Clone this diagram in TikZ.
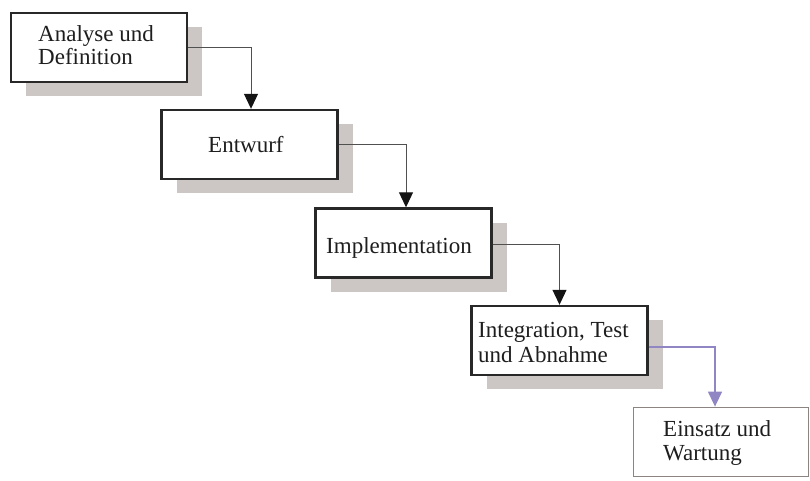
\documentclass[tikz,border=0pt]{standalone}
\usepackage{fontspec}
\setmainfont{Liberation Serif}
\usetikzlibrary{arrows.meta,shadows}
\definecolor{shade}{RGB}{204,199,196}
\definecolor{frame}{RGB}{40,40,40}
\definecolor{lastframe}{RGB}{140,132,128}
\definecolor{linegray}{RGB}{80,80,80}
\definecolor{tipblack}{RGB}{20,20,20}
\definecolor{violet}{RGB}{144,134,196}
\definecolor{ink}{RGB}{30,30,30}
\begin{document}
\begin{tikzpicture}[x=1pt,y=-1pt,
  phase/.style={draw=frame, line width=2.4pt, fill=white, inner sep=0pt,
    minimum width=176pt, minimum height=69pt,
    drop shadow={shadow xshift=15pt, shadow yshift=-14pt, fill=shade, opacity=1}},
  lastphase/.style={draw=lastframe, line width=1.8pt, fill=white, inner sep=0pt,
    minimum width=175pt, minimum height=69pt},
  caption/.style={inner sep=0pt, text=ink, align=left,
    font=\fontsize{23}{23.5}\selectfont},
  flow/.style={draw=linegray, line width=1pt,
    -{Triangle[width=14pt,length=15pt,color=tipblack]}},
  lastflow/.style={draw=violet, line width=1.4pt,
    -{Triangle[width=14pt,length=15pt,color=violet]}}]
\useasboundingbox (0,0) rectangle (810,481);

% phase boxes
\node[phase] (b1) at (99,47.5) {};
\node[phase] (b2) at (249.5,144.5) {};
\node[phase] (b3) at (403.5,243) {};
\node[phase] (b4) at (559.5,340.5) {};
\node[lastphase] (b5) at (721,442) {};

% labels (base anchor sits on the last line)
\node[caption, anchor=base west] (t1) at (38,65) {Analyse und\\Definition};
\node[caption, anchor=base west] (t2) at (208,153) {Entwurf};
\node[caption, anchor=base west] (t3) at (326,253) {Implementation};
\node[caption, anchor=base west, font=\fontsize{23}{25}\selectfont] (t4) at (478,362) {Integration, Test\\und Abnahme};
\node[caption, anchor=base west] (t5) at (663,460) {Einsatz und\\Wartung};

% transitions between phases (canvas shifts: negative y goes down)
\draw[flow] (b1.east) -| ([xshift=1.5pt]b2.north);
\draw[flow] (b2.east) -| ([xshift=2.5pt]b3.north);
\draw[flow] ([yshift=-1pt]b3.east) -| (b4.north);
\draw[lastflow] ([yshift=-6.5pt]b4.east) -| ([xshift=-6pt]b5.north);
\end{tikzpicture}
\end{document}
